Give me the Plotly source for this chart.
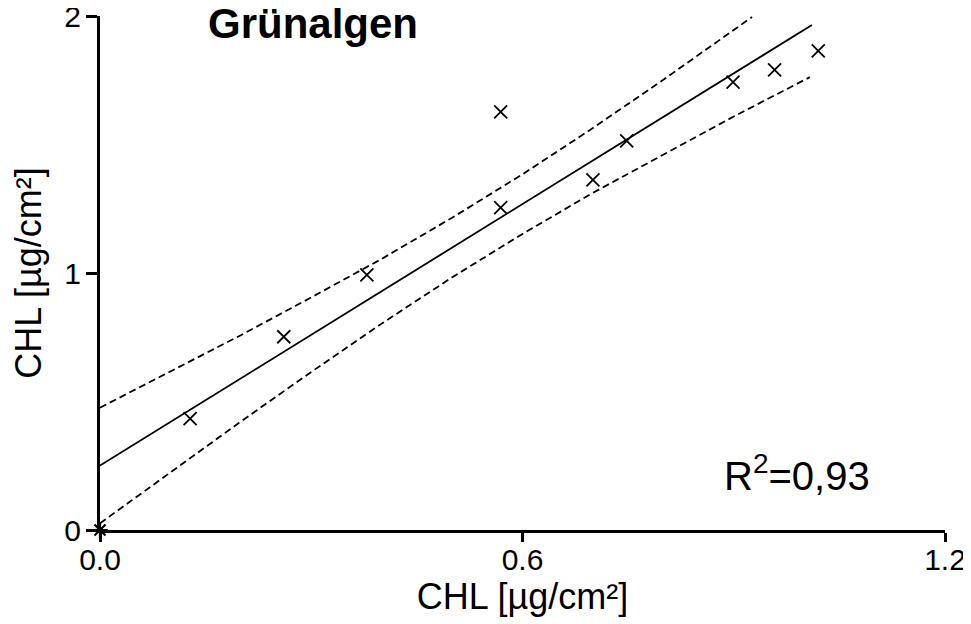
import plotly.graph_objects as go

# measured data points
x_pts = [0.128, 0.261, 0.379, 0.569, 0.569, 0.700, 0.748, 0.899, 0.958, 1.020]
y_pts = [0.433, 0.752, 0.993, 1.627, 1.254, 1.362, 1.514, 1.743, 1.790, 1.864]

x_origin = [0.0]
y_origin = [0.0]

# regression line
x_reg = [0.0, 1.011]
y_reg = [0.251, 1.965]

# confidence bands
x_up = [0.0, 0.1, 0.2, 0.3, 0.4, 0.5, 0.6, 0.7, 0.8, 0.926]
y_up = [0.476, 0.617, 0.758, 0.905, 1.055, 1.215, 1.384, 1.564, 1.752, 1.996]
x_lo = [0.0, 0.1, 0.2, 0.3, 0.4, 0.5, 0.6, 0.7, 0.8, 0.9, 1.008]
y_lo = [0.026, 0.225, 0.422, 0.615, 0.803, 0.983, 1.152, 1.312, 1.462, 1.609, 1.762]

x_ticks = [0.0, 0.6, 1.2]
x_tick_labels = ["0.0", "0.6", "1.2"]
y_ticks = [0, 1, 2]
y_tick_labels = ["0", "1", "2"]

FONT = "Arial, 'Liberation Sans', sans-serif"

# page body adds an 8px offset; margins compensate so the plot area lands
# at x 100..945, y 16..530 in the window
OFF = 8
L, R, T, B = 100 - OFF, 971 - (945 - OFF), 16 - OFF, 624 - (530.5 - OFF)

fig = go.Figure()
fig.add_trace(go.Scatter(x=x_up, y=y_up, mode="lines",
                         line=dict(color="black", width=1.8, dash="7px,4px")))
fig.add_trace(go.Scatter(x=x_lo, y=y_lo, mode="lines",
                         line=dict(color="black", width=1.8, dash="7px,4px")))
fig.add_trace(go.Scatter(x=x_reg, y=y_reg, mode="lines",
                         line=dict(color="black", width=1.8)))
fig.add_trace(go.Scatter(x=x_pts, y=y_pts, mode="markers",
                         marker=dict(symbol="x-thin-open", size=13, color="black",
                                     line=dict(color="black", width=1.8))))
fig.add_trace(go.Scatter(x=x_origin, y=y_origin, mode="markers", cliponaxis=False,
                         marker=dict(symbol="asterisk-open", size=13, color="black",
                                     line=dict(color="black", width=2.2))))

fig.update_layout(
    width=971, height=624,
    margin=dict(l=L, r=R, t=T, b=B),
    paper_bgcolor="white", plot_bgcolor="white",
    showlegend=False,
    font=dict(family=FONT, color="black"),
    xaxis=dict(range=[0, 1.2], tickvals=x_ticks, ticktext=x_tick_labels,
               automargin=False, ticklabeloverflow="allow",
               showgrid=False, zeroline=False, showline=True, linecolor="black",
               linewidth=3, ticks="outside", ticklen=9, tickwidth=2.5,
               tickcolor="black", tickfont=dict(size=30, family=FONT),
               ticklabelstandoff=-8,
               title=dict(text="CHL [µg/cm²]", font=dict(size=36, family=FONT),
                          standoff=3)),
    yaxis=dict(range=[0, 2], tickvals=y_ticks, ticktext=y_tick_labels,
               automargin=False, ticklabeloverflow="allow",
               showgrid=False, zeroline=False, showline=True, linecolor="black",
               linewidth=3, ticks="outside", ticklen=11, tickwidth=2.5,
               tickcolor="black", tickfont=dict(size=30, family=FONT),
               ticklabelstandoff=-1,
               title=dict(text="CHL [µg/cm²]", font=dict(size=36, family=FONT),
                          standoff=12)),
    annotations=[
        dict(text="<b>Grünalgen</b>", xref="paper", yref="paper",
             x=(313 - 100) / 845, y=(530.5 - 24) / 514.5, xanchor="center",
             yanchor="middle", showarrow=False, font=dict(size=42, family=FONT)),
        dict(text="R<sup>2</sup>=0,93", xref="paper", yref="paper",
             x=(797 - 100) / 845, y=(530.5 - 473) / 514.5, xanchor="center",
             yanchor="middle", showarrow=False, font=dict(size=40, family=FONT)),
    ],
)

fig.write_html("out.html")
